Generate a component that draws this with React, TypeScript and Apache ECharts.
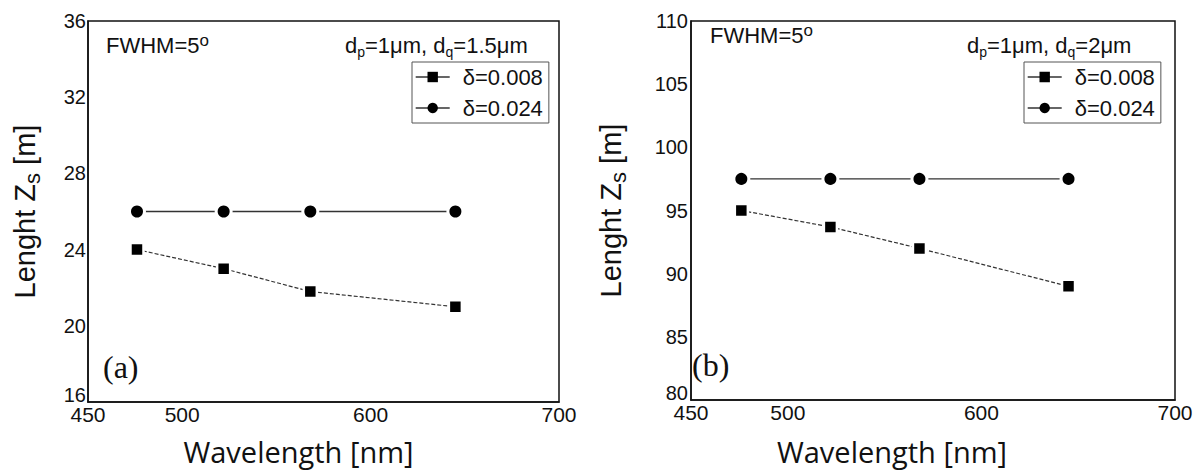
import React, { useEffect, useRef } from "react";
import * as echarts from "echarts";

// ---- data ----
const wavelengths = [476, 522, 568, 645];
const leftDelta008 = [24.0, 23.0, 21.8, 21.0];
const leftDelta024 = [26.0, 26.0, 26.0, 26.0];
const rightDelta008 = [95.0, 93.7, 92.0, 89.0];
const rightDelta024 = [97.5, 97.5, 97.5, 97.5];
const xTickLabels = [450, 500, 600, 700];
const seriesNames = ["δ=0.008", "δ=0.024"];

const SANS = '"Liberation Sans", Arial, sans-serif';
const INK = "#111";

const pairs = (ys: number[]) => wavelengths.map((x, i) => [x, ys[i]]);

function xAxis(gridIndex: number, padRight: number, nameGap: number) {
  return {
    type: "value",
    gridIndex,
    min: 450,
    max: 700,
    interval: 50,
    axisLine: { show: true, lineStyle: { color: INK, width: 1.5 } },
    axisTick: { show: false },
    splitLine: { show: false },
    axisLabel: {
      fontSize: 21,
      fontFamily: SANS,
      color: INK,
      margin: 2,
      showMinLabel: true,
      showMaxLabel: true,
      formatter: (v: number) => (xTickLabels.includes(v) ? String(v) : ""),
    },
    name: "Wavelength [nm]",
    nameLocation: "middle",
    nameGap,
    nameTextStyle: {
      fontSize: 29,
      fontFamily: '"Open Sans", sans-serif',
      color: INK,
      lineHeight: 30,
      padding: [0, padRight, 0, 0],
    },
  };
}

function yAxis(gridIndex: number, min: number, max: number, interval: number, nameGap: number, margin: number) {
  return {
    type: "value",
    gridIndex,
    min,
    max,
    interval,
    axisLine: { show: true, lineStyle: { color: INK, width: 1.5 } },
    axisTick: { show: false },
    splitLine: { show: false },
    axisLabel: {
      fontSize: 20,
      fontFamily: SANS,
      color: INK,
      margin,
      showMinLabel: true,
      showMaxLabel: true,
      formatter: (v: number) => (v === min ? `{m|${v}}` : String(v)),
      rich: { m: { fontSize: 20, fontFamily: SANS, color: INK, padding: [0, 0, 14, 0] } },
    },
    name: "{a|Lenght Z}{s|s}{a| [m]}",
    nameLocation: "middle",
    nameGap,
    nameTextStyle: {
      rich: {
        a: { fontSize: 29, fontFamily: SANS, color: INK, lineHeight: 36 },
        s: { fontSize: 22, fontFamily: SANS, color: INK, lineHeight: 10, verticalAlign: "bottom" },
      },
    },
  };
}

function squareSeries(idx: number, ys: number[]) {
  return {
    type: "line",
    name: seriesNames[0],
    xAxisIndex: idx,
    yAxisIndex: idx,
    data: pairs(ys),
    symbol: "rect",
    symbolSize: 13,
    itemStyle: { color: "#000", borderColor: "#fff", borderWidth: 2.5 },
    lineStyle: { color: "#333", width: 1.2, type: [4, 2] },
    z: 3,
  };
}

function circleSeries(idx: number, ys: number[]) {
  return {
    type: "line",
    name: seriesNames[1],
    xAxisIndex: idx,
    yAxisIndex: idx,
    data: pairs(ys),
    symbol: "circle",
    symbolSize: 15,
    itemStyle: { color: "#000", borderColor: "#fff", borderWidth: 3 },
    lineStyle: { color: "#333", width: 1.3, type: "solid" },
    z: 3,
  };
}

function legend(left: number) {
  return {
    left,
    top: 62,
    orient: "vertical",
    data: seriesNames,
    itemWidth: 34,
    itemHeight: 13,
    itemGap: 9,
    padding: [4, 6, 4, 3],
    borderColor: "#555",
    borderWidth: 1,
    selectedMode: false,
    textStyle: { fontSize: 22, fontFamily: SANS, color: INK, padding: [0, 0, 0, 8] },
    lineStyle: { type: "solid", width: 1.4, color: "#333" },
    itemStyle: { borderWidth: 0, color: "#000" },
  };
}

const richAnno = {
  a: { fontSize: 22, fontFamily: SANS, fill: INK, color: INK, lineHeight: 28 },
  sup: { fontSize: 17, fontFamily: SANS, fill: INK, color: INK, lineHeight: 12, verticalAlign: "top" },
  sub: { fontSize: 14, fontFamily: SANS, fill: INK, color: INK, lineHeight: 12, verticalAlign: "bottom" },
};

function anno(x: number, y: number, text: string) {
  return {
    type: "text",
    x,
    y,
    z: 10,
    style: { text, rich: richAnno, align: "left", verticalAlign: "middle", fill: INK, fontSize: 22, fontFamily: SANS },
  };
}

function panelLabel(x: number, y: number, text: string) {
  return {
    type: "text",
    x,
    y,
    z: 10,
    style: {
      text,
      fontSize: 32,
      fontFamily: '"Liberation Serif", "Times New Roman", serif',
      fill: INK,
      align: "left",
      verticalAlign: "middle",
    },
  };
}

const option = {
  animation: false,
  backgroundColor: "#fff",
  grid: [
    { left: 88, top: 21, width: 471, height: 383, show: true, borderColor: INK, borderWidth: 1.5, containLabel: false },
    { left: 691, top: 21, width: 484, height: 380, show: true, borderColor: INK, borderWidth: 1.5, containLabel: false },
  ],
  xAxis: [xAxis(0, 50, 34), xAxis(1, 82, 36)],
  yAxis: [yAxis(0, 16, 36, 4, 45, 2), yAxis(1, 80, 110, 5, 62, 3)],
  legend: [legend(412), legend(1024)],
  series: [
    squareSeries(0, leftDelta008),
    circleSeries(0, leftDelta024),
    squareSeries(1, rightDelta008),
    circleSeries(1, rightDelta024),
  ],
  graphic: [
    anno(106, 45.5, "{a|FWHM=5}{sup|o}"),
    anno(345, 45, "{a|d}{sub|p}{a|=1μm, d}{sub|q}{a|=1.5μm}"),
    anno(710, 35.5, "{a|FWHM=5}{sup|o}"),
    anno(967, 45, "{a|d}{sub|p}{a|=1μm, d}{sub|q}{a|=2μm}"),
    panelLabel(103, 367, "(a)"),
    panelLabel(692, 365, "(b)"),
  ],
};

export default function App() {
  const ref = useRef<HTMLDivElement>(null);
  useEffect(() => {
    if (!ref.current) return;
    const chart = echarts.init(ref.current, null, { renderer: "svg" });
    chart.setOption(option as any);
    return () => chart.dispose();
  }, []);
  return (
    <div
      ref={ref}
      style={{ position: "fixed", left: 0, top: 0, width: 1202, height: 471, background: "#fff" }}
    />
  );
}
